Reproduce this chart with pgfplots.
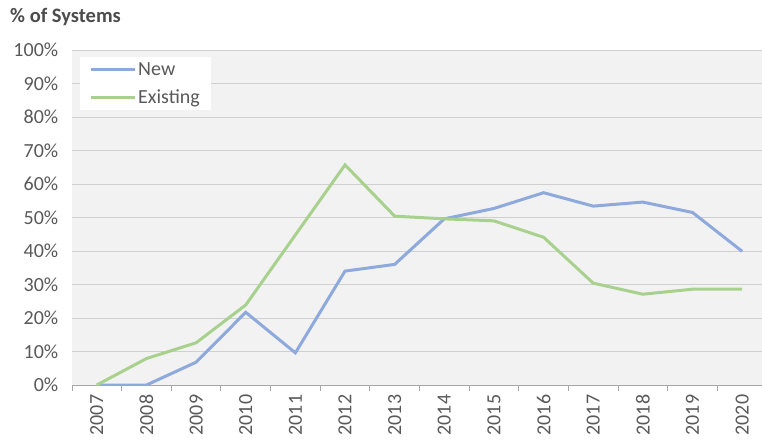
\documentclass[border=0pt]{standalone}
\usepackage{pgfplots}
\pgfplotsset{compat=1.18}
\usepackage{fontspec}
\setmainfont{Carlito}
\definecolor{newc}{RGB}{142,169,219}
\definecolor{exic}{RGB}{169,209,142}
\definecolor{bgc}{RGB}{242,242,242}
\definecolor{gridc}{RGB}{208,208,208}
\definecolor{txt}{RGB}{89,89,89}
\begin{document}
\begin{tikzpicture}
\useasboundingbox (0pt,0pt) rectangle (762pt,440pt);
\node[anchor=west, font=\fontsize{20.5}{24}\selectfont\bfseries, text=txt!85!black, inner sep=0] at (10pt,423pt) {\% of Systems};
\begin{axis}[
  at={(72pt,55pt)}, anchor=south west,
  scale only axis, width=690pt, height=335pt,
  xmin=-0.5, xmax=13.4, ymin=0, ymax=100,
  axis background/.style={fill=bgc},
  axis x line*=bottom, axis y line*=left,
  x axis line style={draw=gridc!80!black, line width=1pt, -},
  y axis line style={draw=none},
  ytick={0,10,...,100},
  yticklabels={0\%,10\%,20\%,30\%,40\%,50\%,60\%,70\%,80\%,90\%,100\%},
  ymajorgrids, grid style={gridc, line width=1pt},
  ytick style={draw=none},
  xtick={0,...,13},
  xticklabels={2007,2008,2009,2010,2011,2012,2013,2014,2015,2016,2017,2018,2019,2020},
  major x tick style={draw=none},
  minor xtick={-0.5,0.5,...,12.5},
  minor x tick style={draw=gridc!80!black, line width=1pt},
  minor tick length=6pt,
  tick align=outside,
  x tick label style={rotate=90, anchor=east, xshift=-2pt},
  tick label style={font=\fontsize{20}{24}\selectfont, text=txt},
  y tick label style={xshift=-6pt},
  /pgf/number format/assume math mode=true,
  legend style={at={(0.0116,0.979)}, anchor=north west, fill=white, draw=none,
    font=\fontsize{20}{24}\selectfont, text=txt, inner xsep=9pt, inner ysep=3pt,
    row sep=9pt},
  legend cell align=left,
  legend image code/.code={\draw[#1] (0pt,0pt) -- (44pt,0pt);},
]
\addplot[newc, line width=3pt] coordinates {
(0,0) (1,0) (2,6.8) (3,21.7) (4,9.6) (5,34.0) (6,36.0) (7,49.6) (8,52.7) (9,57.4) (10,53.4) (11,54.6) (12,51.5) (13,39.9)};
\addlegendentry{New}
\addplot[exic, line width=3pt] coordinates {
(0,0) (1,7.9) (2,12.6) (3,23.9) (4,44.8) (5,65.7) (6,50.4) (7,49.6) (8,49.0) (9,44.1) (10,30.4) (11,27.1) (12,28.6) (13,28.6)};
\addlegendentry{Existing}
\end{axis}
\end{tikzpicture}
\end{document}
